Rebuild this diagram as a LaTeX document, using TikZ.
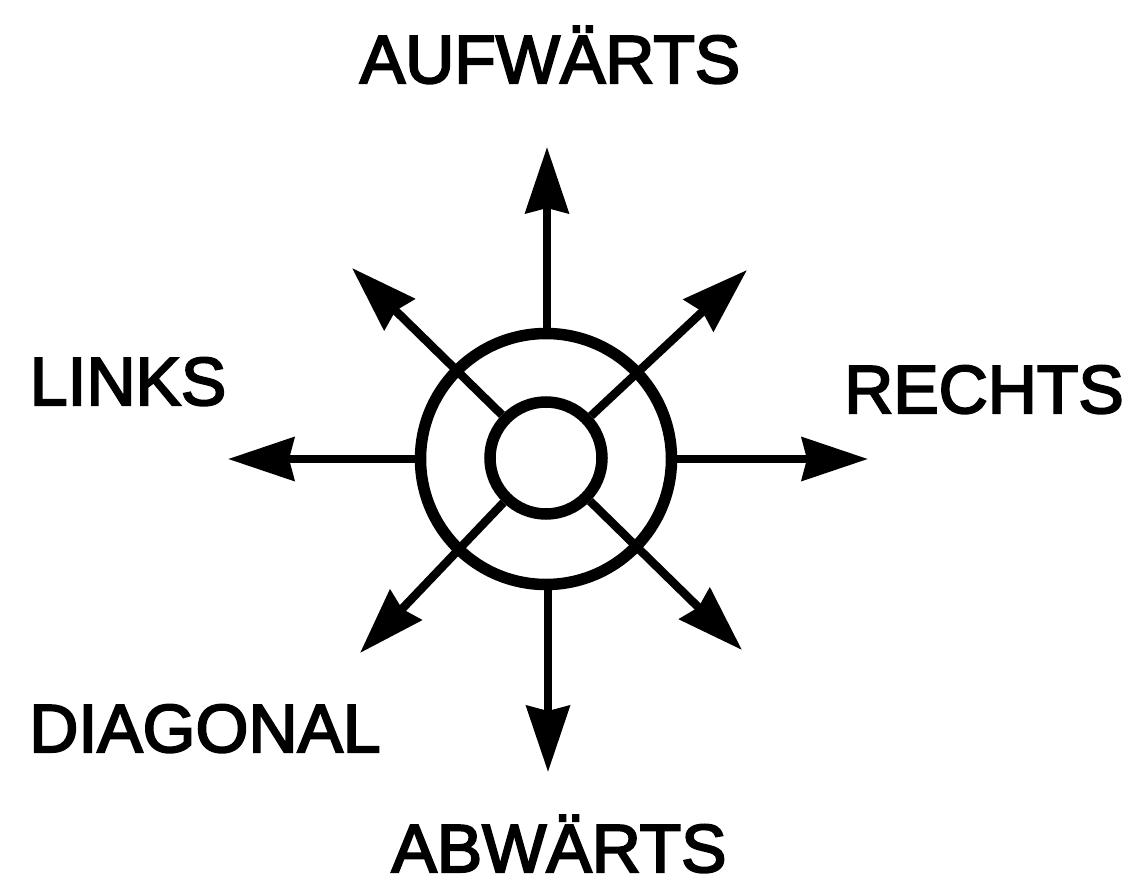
\documentclass[tikz,border=0pt]{standalone}
\usepackage{fontspec}
\setmainfont{Liberation Sans}[FakeBold=3]
\usetikzlibrary{arrows.meta}
\begin{document}
\begin{tikzpicture}[x=1pt,y=-1pt,
  ring/.style={circle, draw, line width=11.5pt, inner sep=0pt},
  arr/.style={line width=8.5pt, -{Stealth[length=66pt,width=43pt,inset=5pt]}},
  lab/.style={anchor=base, inner sep=0pt, text depth=0pt, font=\fontsize{68}{72}\selectfont}]
\useasboundingbox (0,0) rectangle (1128,883);
\node[ring, minimum size=251pt] (outer) at (546,459) {};
\node[ring, minimum size=112pt] (inner) at (546,458) {};
\coordinate (tu) at (547,147);
\coordinate (td) at (548,772);
\coordinate (tl) at (228,459);
\coordinate (tr) at (868,459);
\coordinate (tul) at (352,268);
\coordinate (tur) at (747,270);
\coordinate (tdl) at (360,653);
\coordinate (tdr) at (742,650);
\draw[arr] (outer.north -| tu) -- (tu);
\draw[arr] (outer.south -| td) -- (td);
\draw[arr] (outer.west) -- (tl);
\draw[arr] (outer.east) -- (tr);
\draw[arr] (inner) -- (tul);
\draw[arr] (inner) -- (tur);
\draw[arr] (inner) -- (tdl);
\draw[arr] (inner) -- (tdr);
\node[lab] (up) at (550,83) {AUFWÄRTS};
\node[lab] (links) at (128,405) {LINKS};
\node[lab] (rechts) at (984,413) {RECHTS};
\node[lab] (diag) at (205,752) {DIAGONAL};
\node[lab] (down) at (559,872) {ABWÄRTS};
\end{tikzpicture}
\end{document}
